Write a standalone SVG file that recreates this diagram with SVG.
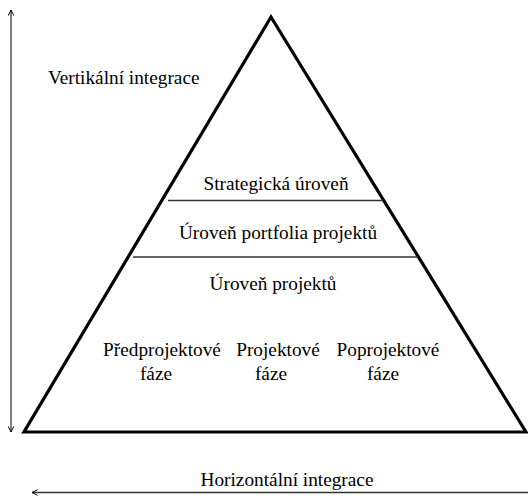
<svg xmlns="http://www.w3.org/2000/svg" width="528" height="496" viewBox="0 0 528 496">
<style>
.c{text-anchor:middle}
.thin{stroke:#000;stroke-width:1;fill:none}
.lvl{stroke:#333;stroke-width:1.3;fill:none}
</style>
<defs>
<marker id="ah" viewBox="0 0 10 10" refX="9" refY="5" markerWidth="7" markerHeight="7" orient="auto-start-reverse" markerUnits="userSpaceOnUse">
<path d="M1,1 L9,5 L1,9" fill="none" stroke="#000" stroke-width="1.4"/>
</marker>
</defs>
<rect width="528" height="496" fill="#fff"/>
<g id="pyramid">
<polygon points="271,17 24,432 526,432" fill="none" stroke="#000" stroke-width="3.2" stroke-linejoin="miter"/>
<line class="lvl" x1="168" y1="200.5" x2="383" y2="200.5"/>
<line class="lvl" x1="133" y1="257" x2="418" y2="257"/>
</g>
<g id="connectors">
<line class="thin" x1="11" y1="432" x2="11" y2="10" marker-end="url(#ah)" marker-start="url(#ah)"/>
<line class="thin" x1="528" y1="492.5" x2="32" y2="492.5" marker-end="url(#ah)" style="stroke:#333;stroke-width:1.6"/>
</g>
<g font-family="'Liberation Serif', 'Times New Roman', serif" font-size="19.3" fill="#000">
<g id="vertical-label"><text x="48" y="84">Vertikální integrace</text></g>
<g id="strategic"><text class="c" x="276" y="190">Strategická úroveň</text></g>
<g id="portfolio"><text class="c" x="278" y="239">Úroveň portfolia projektů</text></g>
<g id="projects"><text class="c" x="273" y="290">Úroveň projektů</text></g>
<g id="pre"><text class="c" x="162" y="356">Předprojektové</text><text class="c" x="156" y="380">fáze</text></g>
<g id="proj"><text class="c" x="278" y="356">Projektové</text><text class="c" x="271" y="380">fáze</text></g>
<g id="post"><text class="c" x="388" y="356">Poprojektové</text><text class="c" x="383" y="380">fáze</text></g>
<g id="horizontal-label"><text class="c" x="287" y="486">Horizontální integrace</text></g>
</g>
</svg>
